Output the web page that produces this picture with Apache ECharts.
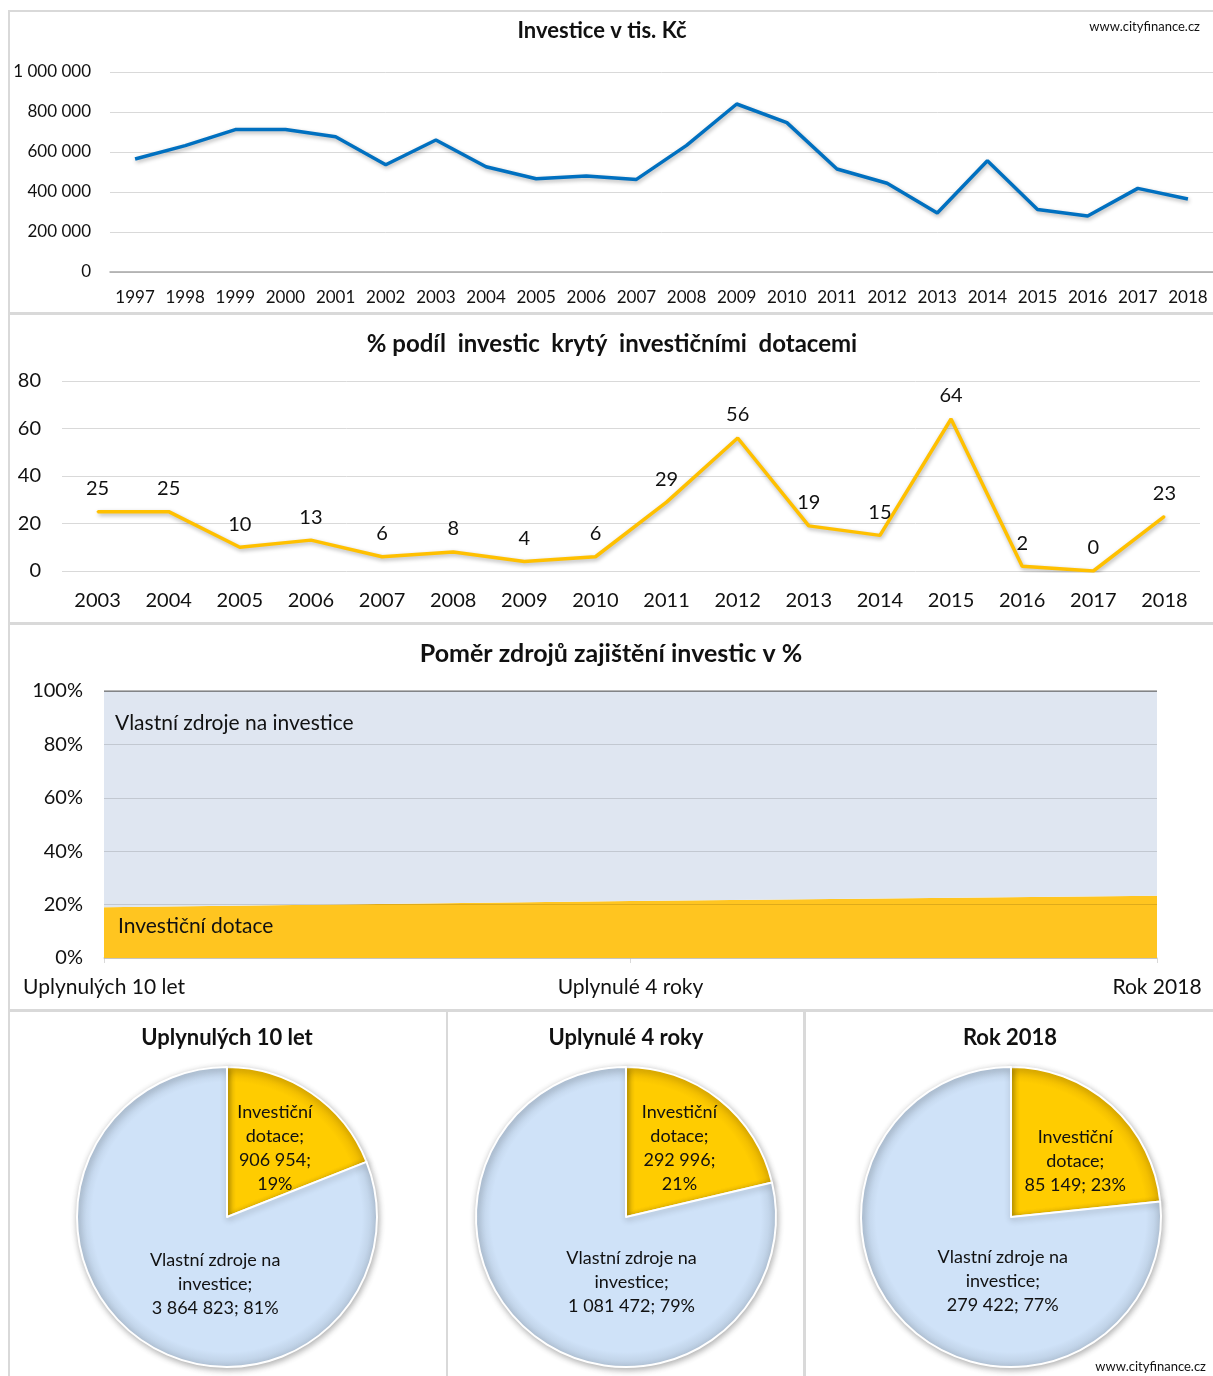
<!DOCTYPE html>
<html>
<head>
<meta charset="utf-8">
<script src="https://cdn.jsdelivr.net/npm/echarts@6/dist/echarts.min.js"></script>
<style>
  html, body { margin: 0; padding: 0; background: #fff; }
  #chart { width: 1213px; height: 1376px; }
</style>
</head>
<body>
<div id="chart"></div>
<script>
// Investment totals per year (thousand CZK)
const years = ['1997','1998','1999','2000','2001','2002','2003','2004','2005','2006','2007',
               '2008','2009','2010','2011','2012','2013','2014','2015','2016','2017','2018'];
const investice = [565000, 632000, 712000, 712000, 676000, 536000, 660000, 526000, 466000, 480000, 463000,
                   633000, 840000, 747000, 515000, 444000, 295000, 556000, 312000, 280000, 418000, 364571];
const investiceTicks = { min: 0, max: 1000000, interval: 200000 };

// Share of investment covered by investment subsidies (%)
const podilYears = ['2003','2004','2005','2006','2007','2008','2009','2010',
                    '2011','2012','2013','2014','2015','2016','2017','2018'];
const podilDotaci = [25, 25, 10, 13, 6, 8, 4, 6, 29, 56, 19, 15, 64, 2, 0, 23];
const podilTicks = { min: 0, max: 80, interval: 20 };

// Funding sources per period (thousand CZK)
const obdobi = ['Uplynulých 10 let', 'Uplynulé 4 roky', 'Rok 2018'];
const dotace = [906954, 292996, 85149];
const vlastniZdroje = [3864823, 1081472, 279422];
const nazevDotace = 'Investiční\ndotace';
const nazevVlastni = 'Vlastní zdroje na\ninvestice';

const FONT = 'Lato, "Open Sans", sans-serif';
const TXT = '#111';
const GRID = '#D9D9D9';

const fmt = n => String(Math.round(n)).replace(/\B(?=(\d{3})+(?!\d))/g, ' ');

// percentage shares for the stacked area
const dotacePct = dotace.map((d, i) => d / (d + vlastniZdroje[i]) * 100);
const vlastniPct = vlastniZdroje.map((v, i) => v / (dotace[i] + v) * 100);

const chart = echarts.init(document.getElementById('chart'), null, { renderer: 'canvas' });

function panel(x, y, w, h) {
  return { type: 'rect', shape: { x, y, width: w, height: h }, z: 0,
           style: { fill: 'none', stroke: '#D9D9D9', lineWidth: 2 } };
}
function text(str, x, y, size, opts) {
  return { type: 'text', x, y, z: 10,
           style: Object.assign({ text: str, font: (opts && opts.bold ? 'bold ' : '') + size + 'px ' + FONT,
                                  fill: TXT, align: 'center', verticalAlign: 'middle' }, opts && opts.style) };
}

// pie label nudges [dx, dy] for each slice
const pieNudge = [
  [[4, -4], [32, 3]],
  [[5, -8], [54, 4]],
  [[12, 2], [44, 6]]
];
const pieCenters = [[227, 1217], [626, 1217], [1011, 1217]];
const PIE_R = 150;

function rimGradient(c, inner, rim) {
  return { type: 'radial', global: true, x: c[0], y: c[1], r: PIE_R,
           colorStops: [{ offset: 0, color: inner }, { offset: 0.9, color: inner }, { offset: 1, color: rim }] };
}

const pies = obdobi.map((name, i) => ({
  type: 'pie',
  name,
  center: pieCenters[i],
  radius: PIE_R,
  startAngle: 90,
  clockwise: true,
  animation: false,
  silent: true,
  avoidLabelOverlap: false,
  data: [
    { name: nazevDotace, value: dotace[i],
      itemStyle: { color: rimGradient(pieCenters[i], '#FFCC00', '#E8B400') } },
    { name: nazevVlastni, value: vlastniZdroje[i],
      itemStyle: { color: rimGradient(pieCenters[i], '#CFE2F8', '#B9CBDF') } }
  ],
  itemStyle: { borderColor: '#fff', borderWidth: 2, shadowBlur: 6, shadowOffsetX: 1, shadowOffsetY: 2, shadowColor: 'rgba(0,0,0,0.3)' },
  label: {
    show: true, position: 'inside', color: TXT, fontFamily: FONT, fontSize: 18, lineHeight: 24,
    formatter: p => {
      const pct = Math.round(p.percent) + '%';
      if (p.dataIndex === 0 && i < 2) return p.name + ';\n' + fmt(p.value) + ';\n' + pct;
      return p.name + ';\n' + fmt(p.value) + '; ' + pct;
    }
  },
  labelLine: { show: false },
  labelLayout: p => ({ dx: pieNudge[i][p.dataIndex][0], dy: pieNudge[i][p.dataIndex][1] })
}));

const option = {
  animation: false,
  backgroundColor: '#fff',
  textStyle: { fontFamily: FONT },
  grid: [
    { left: 110, top: 72, width: 1105, height: 200 },
    { left: 62, top: 381, width: 1138, height: 190 },
    { left: 104, top: 691, width: 1053, height: 267 }
  ],
  xAxis: [
    { gridIndex: 0, type: 'category', data: years, boundaryGap: true,
      axisLine: { lineStyle: { color: '#A6A6A6', width: 1.5 } }, axisTick: { show: false },
      axisLabel: { color: TXT, fontSize: 17, margin: 17, fontFamily: FONT, interval: 0 } },
    { gridIndex: 1, type: 'category', data: podilYears, boundaryGap: true,
      axisLine: { show: false }, axisTick: { show: false },
      axisLabel: { color: TXT, fontSize: 20, margin: 20, fontFamily: FONT, interval: 0 } },
    { gridIndex: 2, type: 'category', data: obdobi, boundaryGap: false,
      axisLine: { lineStyle: { color: GRID, width: 1.5 } },
      axisTick: { show: true, length: 5, lineStyle: { color: GRID } },
      axisLabel: { color: TXT, fontSize: 21, margin: 19, fontFamily: FONT, interval: 0 } }
  ],
  yAxis: [
    { gridIndex: 0, type: 'value', min: investiceTicks.min, max: investiceTicks.max, interval: investiceTicks.interval,
      axisLine: { show: false }, axisTick: { show: false },
      splitLine: { lineStyle: { color: GRID, width: 1 } },
      axisLabel: { color: TXT, fontSize: 17, margin: 19, fontFamily: FONT, formatter: v => fmt(v) } },
    { gridIndex: 1, type: 'value', min: podilTicks.min, max: podilTicks.max, interval: podilTicks.interval,
      axisLine: { show: false }, axisTick: { show: false },
      splitLine: { lineStyle: { color: GRID, width: 1 } },
      axisLabel: { color: TXT, fontSize: 20, margin: 21, fontFamily: FONT } },
    { gridIndex: 2, type: 'value', min: 0, max: 100, interval: 20, z: 5,
      axisLine: { show: false }, axisTick: { show: false },
      splitLine: { lineStyle: { color: 'rgba(0,0,0,0.13)', width: 1 } },
      axisLabel: { color: TXT, fontSize: 20, margin: 21, fontFamily: FONT, formatter: '{value}%' } }
  ],
  series: [
    { type: 'line', xAxisIndex: 0, yAxisIndex: 0, data: investice, symbol: 'none',
      lineStyle: { color: '#0070C0', width: 3.5, shadowBlur: 4, shadowOffsetX: 1, shadowOffsetY: 2, shadowColor: 'rgba(0,0,0,0.3)' } },
    { type: 'line', xAxisIndex: 1, yAxisIndex: 1, data: podilDotaci, symbol: 'circle', symbolSize: 2,
      itemStyle: { color: '#FFC000' },
      lineStyle: { color: '#FFC000', width: 3.5, shadowBlur: 4, shadowOffsetX: 1, shadowOffsetY: 2, shadowColor: 'rgba(0,0,0,0.3)' },
      label: { show: true, position: 'top', distance: 12, color: TXT, fontSize: 20, fontFamily: FONT } },
    { type: 'line', name: 'Investiční dotace', xAxisIndex: 2, yAxisIndex: 2, stack: 'zdroje', data: dotacePct,
      symbol: 'none', lineStyle: { width: 0 }, areaStyle: { color: '#FFC520', opacity: 1 } },
    { type: 'line', name: 'Vlastní zdroje na investice', xAxisIndex: 2, yAxisIndex: 2, stack: 'zdroje', data: vlastniPct,
      symbol: 'none', lineStyle: { color: '#7F7F7F', width: 1.5 }, areaStyle: { color: '#DFE6F1', opacity: 1 } }
  ].concat(pies),
  graphic: [
    panel(9, 11, 1210, 302),
    panel(9, 314, 1210, 309),
    panel(9, 624, 1210, 386),
    panel(9, 1011, 438, 370),
    panel(447, 1011, 357, 370),
    panel(805, 1011, 414, 370),
    text('Investice v tis. Kč', 602, 31, 22, { bold: true }),
    text('www.cityfinance.cz', 1200, 27, 13, { style: { align: 'right' } }),
    text('% podíl  investic  krytý  investičními  dotacemi', 612, 344, 24, { bold: true }),
    text('Poměr zdrojů zajištění investic v %', 611, 654, 25, { bold: true }),
    text('Vlastní zdroje na investice', 115, 723, 21, { style: { align: 'left' } }),
    text('Investiční dotace', 118, 926, 21, { style: { align: 'left' } }),
    text(obdobi[0], 227, 1038, 22, { bold: true }),
    text(obdobi[1], 626, 1038, 22, { bold: true }),
    text(obdobi[2], 1010, 1038, 22, { bold: true }),
    text('www.cityfinance.cz', 1206, 1367, 13, { style: { align: 'right' } })
  ]
};

chart.setOption(option);
</script>
</body>
</html>
